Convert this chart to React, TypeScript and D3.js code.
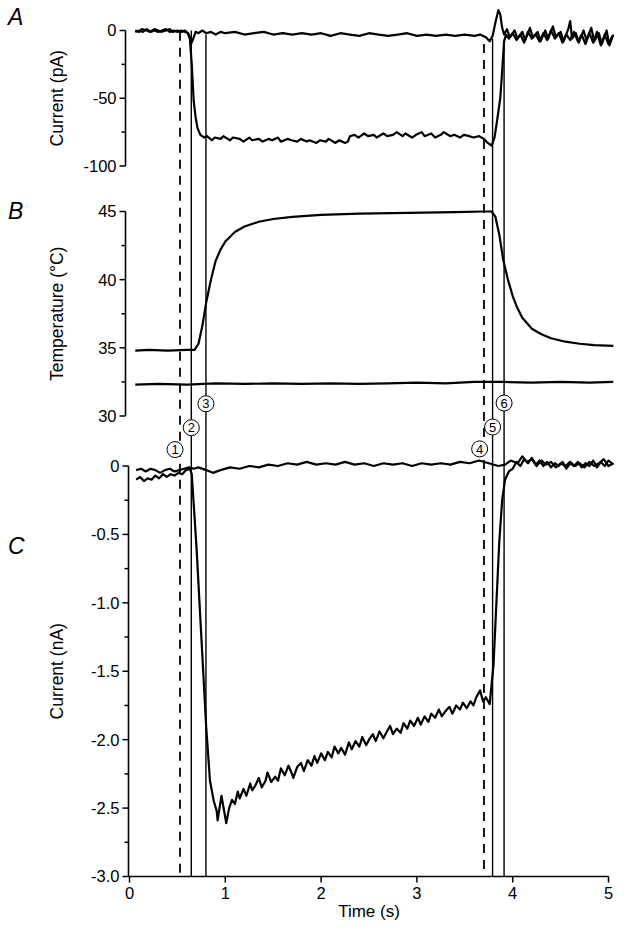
import * as d3 from "d3";

type Pt = [number, number];

// time axis (s)
const timeTicks = [0, 1, 2, 3, 4, 5];

// panel A: current (pA)
const aTicks = [0, -25, -50, -75, -100];
const aLabels = [0, -50, -100];
const aControl: Pt[] = [
  [0.06, 0], [0.1, -1], [0.13, 1], [0.18, 0], [0.21, -1], [0.26, 1], [0.3, 0], [0.33, -1], [0.38, 0],
  [0.42, 1], [0.45, -1], [0.5, 0], [0.54, -1], [0.58, 0], [0.61, -2], [0.63, -5], [0.65, -9], [0.67, -5],
  [0.69, -1], [0.72, -2], [0.76, 0], [0.8, -2], [0.85, -1], [0.9, -3], [0.95, -1], [1.0, -2], [1.1, -1],
  [1.2, -3], [1.3, -2], [1.4, -1], [1.5, -3], [1.6, -2], [1.7, -3], [1.8, -2], [1.9, -3], [2.0, -2],
  [2.1, -4], [2.2, -2], [2.3, -3], [2.4, -4], [2.5, -2], [2.6, -3], [2.7, -4], [2.8, -3], [2.9, -2],
  [3.0, -4], [3.1, -3], [3.2, -4], [3.3, -3], [3.4, -4], [3.5, -3], [3.6, -4], [3.66, -3], [3.72, -5],
  [3.76, -8], [3.79, -4], [3.82, 6], [3.85, 15], [3.87, 12], [3.89, 2], [3.91, -3], [3.94, 1], [3.97, -5],
  [4.02, 0], [4.05, -6], [4.1, -1], [4.13, -7], [4.18, 2], [4.21, -5], [4.26, -1], [4.29, -8], [4.34, 0],
  [4.37, -6], [4.42, 3], [4.45, -5], [4.5, -1], [4.53, -8], [4.58, 1], [4.6, 7], [4.62, -6], [4.66, -2],
  [4.69, -9], [4.74, 0], [4.77, -7], [4.82, 2], [4.85, -8], [4.9, -2], [4.93, -10], [4.98, 0], [5.01, -11],
  [5.05, -3],
];
const aHeat: Pt[] = [
  [0.06, -1], [0.1, 0], [0.14, -1], [0.18, 1], [0.22, -1], [0.26, 0], [0.3, -1], [0.34, 0], [0.38, 1],
  [0.42, -1], [0.46, 0], [0.5, -1], [0.54, 0], [0.58, -1], [0.61, -2], [0.63, -6], [0.65, -25], [0.67, -52],
  [0.69, -64], [0.71, -72], [0.74, -77], [0.78, -79], [0.81, -78], [0.86, -81], [0.89, -79], [0.95, -80],
  [0.98, -78], [1.05, -81], [1.08, -79], [1.15, -80], [1.19, -82], [1.25, -79], [1.28, -81], [1.35, -80],
  [1.39, -82], [1.45, -80], [1.49, -81], [1.55, -79], [1.58, -82], [1.65, -80], [1.69, -81], [1.75, -82],
  [1.79, -80], [1.85, -82], [1.88, -81], [1.95, -83], [1.99, -81], [2.05, -82], [2.08, -80], [2.15, -83],
  [2.19, -81], [2.25, -83], [2.28, -82], [2.3, -78], [2.35, -77], [2.39, -79], [2.45, -76], [2.49, -78],
  [2.55, -77], [2.58, -79], [2.65, -76], [2.69, -78], [2.75, -77], [2.79, -75], [2.85, -78], [2.88, -76],
  [2.95, -79], [2.99, -77], [3.05, -75], [3.08, -78], [3.15, -76], [3.19, -79], [3.25, -77], [3.28, -75],
  [3.35, -78], [3.39, -77], [3.45, -79], [3.49, -77], [3.55, -78], [3.59, -79], [3.65, -78], [3.7, -80],
  [3.74, -83], [3.78, -85], [3.81, -79], [3.84, -65], [3.87, -50], [3.89, -30], [3.91, -8], [3.93, -3],
  [3.96, -6], [4.0, -2], [4.04, -7], [4.08, -3], [4.12, -9], [4.16, -1], [4.2, -6], [4.24, -3], [4.28, -8],
  [4.32, -2], [4.36, -7], [4.4, 0], [4.44, -6], [4.48, -2], [4.52, -9], [4.56, -3], [4.6, -7], [4.64, -1],
  [4.68, -8], [4.72, -3], [4.76, -10], [4.8, -2], [4.84, -9], [4.88, -1], [4.92, -11], [4.96, -3],
  [5.0, -10], [5.04, -4],
];

// panel B: temperature (°C)
const bTicks = [45, 42.5, 40, 37.5, 35, 32.5, 30];
const bLabels = [45, 40, 35, 30];
const bBath: Pt[] = [
  [0.06, 32.3], [0.3, 32.35], [0.6, 32.3], [0.9, 32.4], [1.2, 32.35], [1.5, 32.4], [1.8, 32.35],
  [2.1, 32.4], [2.4, 32.35], [2.7, 32.4], [3.0, 32.45], [3.3, 32.4], [3.6, 32.5], [3.9, 32.5],
  [4.2, 32.45], [4.5, 32.5], [4.8, 32.45], [5.05, 32.5],
];
const bHeat: Pt[] = [
  [0.06, 34.8], [0.2, 34.85], [0.4, 34.8], [0.6, 34.85], [0.68, 34.85], [0.72, 35.3], [0.76, 36.6],
  [0.8, 38.3], [0.85, 40.0], [0.9, 41.4], [0.95, 42.2], [1.0, 42.8], [1.1, 43.5], [1.2, 43.9],
  [1.35, 44.25], [1.5, 44.45], [1.7, 44.6], [2.0, 44.75], [2.4, 44.85], [2.9, 44.9], [3.4, 44.95],
  [3.7, 45.0], [3.78, 45.0], [3.82, 44.6], [3.86, 43.3], [3.9, 41.5], [3.95, 40.0], [4.0, 38.8],
  [4.05, 37.9], [4.1, 37.2], [4.2, 36.4], [4.3, 36.0], [4.4, 35.7], [4.55, 35.45], [4.7, 35.3],
  [4.85, 35.2], [5.05, 35.15],
];

// panel C: current (nA)
const cTicks = [0, -0.25, -0.5, -0.75, -1, -1.25, -1.5, -1.75, -2, -2.25, -2.5, -2.75, -3];
const cLabels = [0, -0.5, -1, -1.5, -2, -2.5, -3];
const cControl: Pt[] = [
  [0.07, -0.03], [0.12, -0.02], [0.17, -0.04], [0.22, -0.02], [0.27, -0.03], [0.32, -0.05], [0.37, -0.03],
  [0.42, -0.02], [0.47, -0.04], [0.52, -0.03], [0.57, -0.02], [0.62, -0.01], [0.67, -0.02], [0.72, -0.01],
  [0.8, -0.03], [0.87, -0.05], [0.95, -0.03], [1.05, -0.01], [1.15, -0.02], [1.25, 0.0], [1.35, -0.01],
  [1.45, 0.01], [1.55, 0.0], [1.65, 0.02], [1.75, 0.01], [1.85, 0.03], [1.95, 0.01], [2.05, 0.02],
  [2.15, 0.01], [2.25, 0.03], [2.35, 0.01], [2.45, 0.02], [2.55, 0.0], [2.65, 0.02], [2.75, 0.01],
  [2.85, 0.02], [2.95, 0.0], [3.05, 0.02], [3.15, 0.01], [3.25, 0.02], [3.35, 0.01], [3.45, 0.03],
  [3.55, 0.02], [3.65, 0.04], [3.75, 0.02], [3.85, 0.0], [3.92, 0.01], [3.98, 0.04], [4.05, 0.02],
  [4.1, 0.07], [4.15, 0.03], [4.2, 0.05], [4.25, 0.0], [4.3, 0.04], [4.35, 0.01], [4.4, 0.03], [4.45, -0.01],
  [4.5, 0.02], [4.55, 0.0], [4.6, 0.03], [4.65, 0.0], [4.7, 0.02], [4.75, -0.01], [4.8, 0.03], [4.85, 0.0],
  [4.9, 0.02], [4.95, 0.05], [5.0, 0.0], [5.05, 0.02],
];
const cHeat: Pt[] = [
  [0.07, -0.1], [0.11, -0.08], [0.15, -0.11], [0.19, -0.09], [0.23, -0.1], [0.27, -0.07], [0.31, -0.09],
  [0.35, -0.06], [0.39, -0.08], [0.43, -0.06], [0.47, -0.07], [0.51, -0.05], [0.55, -0.06], [0.59, -0.03],
  [0.63, -0.02], [0.65, -0.06], [0.7, -0.6], [0.75, -1.25], [0.8, -1.9], [0.84, -2.3], [0.88, -2.45],
  [0.91, -2.52], [0.92, -2.59], [0.96, -2.41], [1.01, -2.61], [1.04, -2.5], [1.07, -2.44], [1.1, -2.47],
  [1.13, -2.38], [1.15, -2.43], [1.19, -2.36], [1.22, -2.41], [1.26, -2.32], [1.28, -2.37], [1.31, -2.34],
  [1.35, -2.28], [1.38, -2.35], [1.42, -2.3], [1.44, -2.24], [1.48, -2.31], [1.52, -2.27], [1.55, -2.3],
  [1.58, -2.21], [1.62, -2.26], [1.66, -2.19], [1.69, -2.24], [1.71, -2.28], [1.75, -2.2], [1.79, -2.17],
  [1.82, -2.23], [1.86, -2.15], [1.9, -2.19], [1.93, -2.12], [1.96, -2.17], [2.0, -2.1], [2.04, -2.15],
  [2.07, -2.09], [2.11, -2.13], [2.14, -2.05], [2.18, -2.1], [2.21, -2.06], [2.25, -2.11], [2.29, -2.02],
  [2.32, -2.07], [2.36, -2.01], [2.4, -2.05], [2.43, -1.98], [2.47, -2.04], [2.5, -2.0], [2.54, -1.96],
  [2.57, -2.01], [2.61, -1.94], [2.65, -1.99], [2.68, -1.95], [2.72, -1.9], [2.75, -1.96], [2.79, -1.92],
  [2.83, -1.95], [2.86, -1.88], [2.9, -1.92], [2.93, -1.86], [2.97, -1.9], [3.01, -1.84], [3.04, -1.89],
  [3.08, -1.83], [3.12, -1.87], [3.15, -1.81], [3.19, -1.84], [3.23, -1.78], [3.26, -1.83], [3.3, -1.79],
  [3.34, -1.76], [3.37, -1.81], [3.41, -1.75], [3.45, -1.78], [3.48, -1.73], [3.52, -1.77], [3.56, -1.72],
  [3.59, -1.75], [3.62, -1.69], [3.66, -1.64], [3.69, -1.72], [3.72, -1.69], [3.76, -1.74], [3.8, -1.45],
  [3.83, -1.0], [3.86, -0.55], [3.89, -0.25], [3.92, -0.1], [3.96, -0.04], [4.0, -0.02], [4.04, 0.03],
  [4.08, 0.0], [4.12, 0.05], [4.16, 0.02], [4.2, 0.06], [4.24, 0.01], [4.28, 0.04], [4.32, 0.0],
  [4.36, 0.03], [4.4, -0.01], [4.44, 0.02], [4.48, 0.0], [4.52, 0.03], [4.56, -0.02], [4.6, 0.02],
  [4.64, 0.0], [4.68, 0.03], [4.72, -0.01], [4.76, 0.02], [4.8, 0.0], [4.84, 0.04], [4.88, -0.01],
  [4.92, 0.03], [4.96, 0.0], [5.0, 0.04], [5.05, 0.01],
];

// event markers 1-6
const markerNames = ["1", "2", "3", "4", "5", "6"];
const markerTimes = [0.527, 0.645, 0.798, 3.7, 3.79, 3.91];
const markerDashed = [true, false, false, true, false, false];
const markerTopPA = [-1, 0, -3, -10, -6, -11];
const markerLabelTimes = [0.475, 0.645, 0.798, 3.655, 3.79, 3.91];
const markerLabelNA = [0.12, 0.28, 0.455, 0.125, 0.285, 0.46];

const FONT = "'Liberation Sans', Arial, Helvetica, sans-serif";

function YAxis({
  scale,
  ax,
  ticks,
  labels,
  fmt,
  title,
  major,
}: {
  scale: d3.ScaleLinear<number, number>;
  ax: number;
  ticks: number[];
  labels: number[];
  fmt: (v: number) => string;
  title: string;
  major: number;
}) {
  const [d0, d1] = scale.domain();
  const mid = (scale(d0) + scale(d1)) / 2;
  return (
    <g>
      <line x1={ax} x2={ax} y1={scale(d0)} y2={scale(d1)} stroke="#000" strokeWidth={1.6} />
      {ticks.map((t) => {
        const isMajor = labels.includes(t);
        return (
          <line
            key={t}
            x1={ax - (isMajor ? major : major - 2)}
            x2={ax}
            y1={scale(t)}
            y2={scale(t)}
            stroke="#000"
            strokeWidth={1.5}
          />
        );
      })}
      {labels.map((t) => (
        <text key={t} x={ax - major - 3} y={scale(t)} dy="0.36em" textAnchor="end" fontSize={16.5}>
          {fmt(t)}
        </text>
      ))}
      <text
        transform={`translate(57,${mid}) rotate(-90)`}
        textAnchor="middle"
        dy="0.36em"
        fontSize={17.5}
      >
        {title}
      </text>
    </g>
  );
}

export default function App() {
  const x = d3.scaleLinear().domain([0, 5]).range([129.5, 608.5]);
  const yA = d3.scaleLinear().domain([-100, 0]).range([166, 30.5]);
  const yB = d3.scaleLinear().domain([30, 45]).range([416, 211.5]);
  const yC = d3.scaleLinear().domain([-3, 0]).range([876.5, 466]);
  const abAxisX = 125.5;

  const lineA = d3.line<Pt>().x((d) => x(d[0])).y((d) => yA(d[1]));
  const lineB = d3.line<Pt>().x((d) => x(d[0])).y((d) => yB(d[1]));
  const lineC = d3.line<Pt>().x((d) => x(d[0])).y((d) => yC(d[1]));

  const trace = { fill: "none", stroke: "#000", strokeWidth: 2.2, strokeLinejoin: "round" as const };

  return (
    <svg
      width={631}
      height={937}
      style={{ position: "absolute", left: 0, top: 0, background: "#fff" }}
      fontFamily={FONT}
    >
      <rect width={631} height={937} fill="#fff" />

      {/* event markers */}
      {markerTimes.map((t, i) => (
        <line
          key={"m" + i}
          x1={x(t)}
          x2={x(t)}
          y1={yA(markerTopPA[i])}
          y2={yC(-3)}
          stroke="#000"
          strokeWidth={markerDashed[i] ? 1.8 : 1.4}
          strokeDasharray={markerDashed[i] ? "9 7" : undefined}
        />
      ))}

      {/* panel A */}
      <YAxis scale={yA} ax={abAxisX} ticks={aTicks} labels={aLabels} fmt={(v) => String(v)} title="Current (pA)" major={6} />
      <path d={lineA(aControl) ?? ""} {...trace} />
      <path d={lineA(aHeat) ?? ""} {...trace} />

      {/* panel B */}
      <YAxis scale={yB} ax={abAxisX} ticks={bTicks} labels={bLabels} fmt={(v) => String(v)} title="Temperature (°C)" major={6} />
      <path d={lineB(bBath) ?? ""} {...trace} />
      <path d={lineB(bHeat) ?? ""} {...trace} />

      {/* panel C */}
      <YAxis
        scale={yC}
        ax={x(0) - 1}
        ticks={cTicks}
        labels={cLabels}
        fmt={(v) => (v === 0 ? "0" : v.toFixed(1))}
        title="Current (nA)"
        major={6}
      />
      <line x1={x(0) - 1} x2={x(5)} y1={yC(-3)} y2={yC(-3)} stroke="#000" strokeWidth={1.6} />
      {timeTicks.map((t) => (
        <g key={"xt" + t}>
          <line x1={x(t)} x2={x(t)} y1={yC(-3)} y2={yC(-3) + 6} stroke="#000" strokeWidth={1.5} />
          <text x={x(t)} y={yC(-3) + 22} textAnchor="middle" fontSize={16.5}>
            {t}
          </text>
        </g>
      ))}
      <text x={(x(0) + x(5)) / 2} y={yC(-3) + 40} textAnchor="middle" fontSize={17}>
        Time (s)
      </text>
      <path d={lineC(cControl) ?? ""} {...trace} />
      <path d={lineC(cHeat) ?? ""} {...trace} />

      {/* circled marker numbers */}
      {markerNames.map((n, i) => (
        <g key={"c" + i} transform={`translate(${x(markerLabelTimes[i])},${yC(markerLabelNA[i])})`}>
          <circle r={8} fill="#fff" stroke="#000" strokeWidth={1} />
          <text textAnchor="middle" dy="0.36em" fontSize={13}>
            {n}
          </text>
        </g>
      ))}

      {/* panel letters */}
      <text x={8} y={25} fontSize={23} fontStyle="italic">A</text>
      <text x={8} y={219} fontSize={23} fontStyle="italic">B</text>
      <text x={8} y={554} fontSize={23} fontStyle="italic">C</text>
    </svg>
  );
}
